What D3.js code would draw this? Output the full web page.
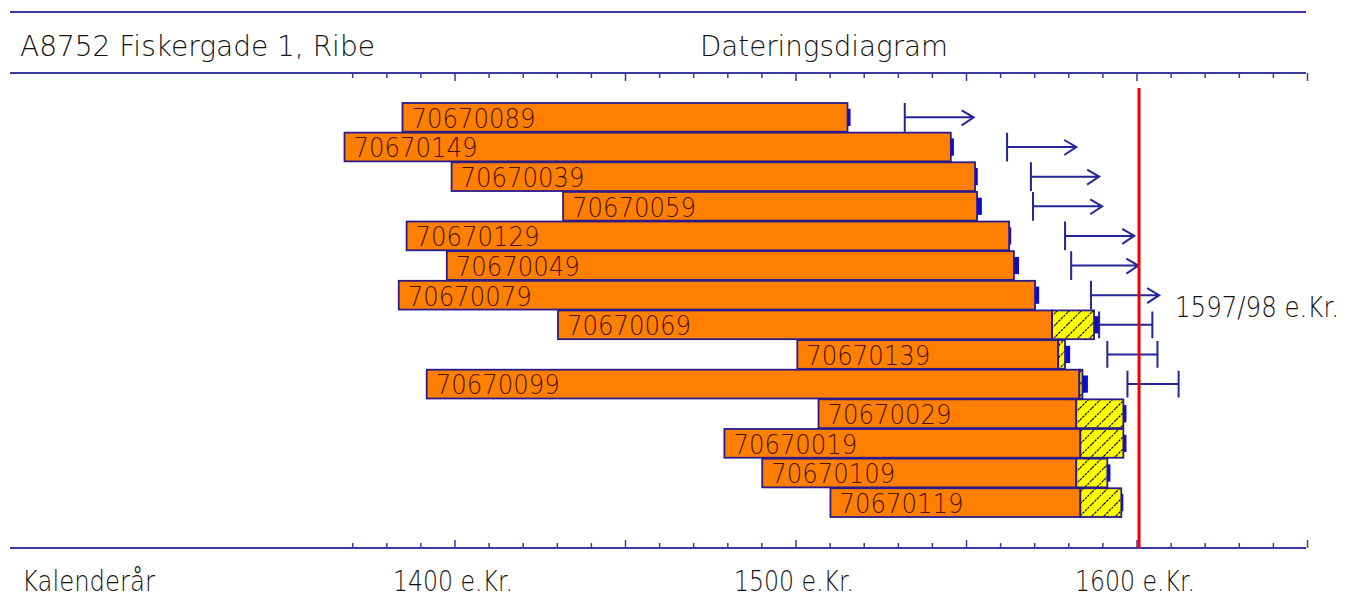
<!DOCTYPE html>
<html><head><meta charset="utf-8">
<script src="https://cdn.jsdelivr.net/npm/d3@7"></script>
<style>
html,body{margin:0;padding:0;background:#fff;}
svg text{font-family:"DejaVu Sans","Liberation Sans",sans-serif;font-weight:200;}
</style>
</head><body>
<svg id="chart" width="1356" height="603"></svg>
<script>
// ---- data ----
const sampleIds = ["70670089","70670149","70670039","70670059","70670129","70670049","70670079","70670069","70670139","70670099","70670029","70670019","70670109","70670119"];
const firstRing = [1384.6,1367.6,1399.0,1431.7,1385.8,1397.6,1383.5,1430.2,1500.4,1391.7,1506.6,1479.0,1490.1,1510.1];
const heartwoodEnd = [1515.1,1545.4,1552.5,1553.1,1562.5,1563.9,1570.1,1575.1,1576.9,1583.1,1582.2,1583.4,1582.2,1583.4];
const sapwoodEnd = [null,null,null,null,null,null,null,1587.4,1578.9,1584.0,1596.0,1596.0,1591.3,1595.4];
const lastRing = [1516.0,1546.3,1553.3,1554.5,1563.1,1565.4,1571.3,1588.9,1580.4,1585.6,1596.9,1596.9,1592.2,1595.9];
const fellAfterFrom = [1531.9,1561.9,1568.9,1569.5,1578.9,1580.7,1586.5,null,null,null,null,null,null,null];
const fellAfterTo   = [1552.1,1582.2,1588.9,1589.8,1599.2,1600.4,1606.5,null,null,null,null,null,null,null];
const fellRangeLo = [null,null,null,null,null,null,null,1588.9,1591.3,1597.2,null,null,null,null];
const fellRangeHi = [null,null,null,null,null,null,null,1604.5,1606.0,1612.2,null,null,null,null];
const datingYear = 1600.6;
const datingLabel = "1597/98 e.Kr.";
const tickYears = d3.range(1370, 1651, 10);
const labelYears = [1400, 1500, 1600];
const labelSuffix = " e.Kr.";
const siteTitle = "A8752 Fiskergade 1, Ribe";
const chartTitle = "Dateringsdiagram";
const axisTitle = "Kalenderår";

// ---- scales ----
const svg = d3.select("#chart");
const x = d3.scaleLinear().domain([1400, 1600]).range([455, 1137]);
const y = d3.scaleBand().domain(sampleIds).range([103, 517]).paddingInner(0.03).paddingOuter(0);
const navy = "#25259a";
const lineCol = "#3a3aa0";

// helper: text squeezed to a target width via transform
function fitText(sel, px, py, size, width, str){
  const t = sel.append("text").attr("font-size",size).attr("fill","#111").text(str);
  const w = t.node().getComputedTextLength();
  t.attr("transform",`translate(${px},${py}) scale(${width/w},1)`);
  return t;
}

// hatch pattern
const defs = svg.append("defs");
const pat = defs.append("pattern").attr("id","hatch").attr("patternUnits","userSpaceOnUse")
  .attr("width",12).attr("height",12);
pat.append("rect").attr("width",12).attr("height",12).attr("fill","#ffff00");
pat.append("path").attr("d","M0,12 L12,0 M-3,3 L3,-3 M9,15 L15,9")
  .attr("stroke","#111").attr("stroke-width",1.2).attr("stroke-dasharray","2.5,1");

// header
svg.append("line").attr("x1",10).attr("x2",1306).attr("y1",12).attr("y2",12).attr("stroke",lineCol).attr("stroke-width",2);
fitText(svg, 20, 56, 29, 355, siteTitle);
fitText(svg, 700, 56, 29, 248, chartTitle);

// axes
function drawAxis(yPos, dir){
  svg.append("line").attr("x1",10).attr("x2",1306).attr("y1",yPos).attr("y2",yPos).attr("stroke",lineCol).attr("stroke-width",2);
  svg.append("g").selectAll("line").data(tickYears).join("line")
    .attr("x1",d=>x(d)).attr("x2",d=>x(d)).attr("y1",yPos)
    .attr("y2",d=> yPos + dir*((d%50===0)?8:5))
    .attr("stroke",lineCol).attr("stroke-width",1.5);
}
drawAxis(73, 1);
drawAxis(548, -1);

fitText(svg, 22, 591, 28, 133, axisTitle);
labelYears.forEach(d=>fitText(svg, x(d)-62, 591, 28, 120, d+labelSuffix));

// bars
const rows = sampleIds.map((id,i)=>({id,i,start:firstRing[i],heart:heartwoodEnd[i],sap:sapwoodEnd[i],last:lastRing[i],
  aFrom:fellAfterFrom[i],aTo:fellAfterTo[i],rLo:fellRangeLo[i],rHi:fellRangeHi[i]}));
const bh = y.bandwidth();
const g = svg.append("g");
// caps (last ring marker)
g.selectAll("rect.cap").data(rows).join("rect").attr("class","cap")
  .attr("x",d=>x(d.sap||d.heart)-1).attr("width",d=>Math.max(3,x(d.last)-x(d.sap||d.heart)+1))
  .attr("y",d=>y(d.id)+bh*0.2).attr("height",bh*0.6).attr("fill","#0a0ad0");
// heartwood
g.selectAll("rect.heart").data(rows).join("rect").attr("class","heart")
  .attr("x",d=>x(d.start)).attr("width",d=>x(d.heart)-x(d.start))
  .attr("y",d=>y(d.id)).attr("height",bh)
  .attr("fill","#ff8000").attr("stroke","#2a1a8a").attr("stroke-width",1.8);
// sapwood
g.selectAll("rect.sap").data(rows.filter(d=>d.sap)).join("rect").attr("class","sap")
  .attr("x",d=>x(d.heart)).attr("width",d=>x(d.sap)-x(d.heart))
  .attr("y",d=>y(d.id)).attr("height",bh)
  .attr("fill","url(#hatch)").attr("stroke","#2a1a8a").attr("stroke-width",1.8);
// labels
rows.forEach(d=>{
  fitText(g, x(d.start)+9, y(d.id)+bh-4, 26, 124, d.id).attr("fill","#4a1200");
});

// felling "after" arrows
const arr = rows.filter(d=>d.aFrom!=null);
const ag = svg.append("g").attr("stroke",navy).attr("stroke-width",2).attr("fill","none");
ag.selectAll("path.a").data(arr).join("path")
  .attr("d",d=>{const cy=y(d.id)+bh/2, x0=x(d.aFrom), x1=x(d.aTo);
    return `M${x0},${y(d.id)} V${y(d.id)+bh} M${x0},${cy} H${x1} M${x1-12},${cy-7} L${x1},${cy} L${x1-12},${cy+8}`;});
// felling ranges
const rng = rows.filter(d=>d.rLo!=null);
ag.selectAll("path.r").data(rng).join("path")
  .attr("d",d=>{const cy=y(d.id)+bh/2, x0=x(d.rLo), x1=x(d.rHi), t=y(d.id)+1, b=y(d.id)+bh-1;
    return `M${x0},${t} V${b} M${x1},${t} V${b} M${x0},${cy} H${x1}`;});

// dating line
svg.append("line").attr("x1",x(datingYear)).attr("x2",x(datingYear)).attr("y1",88).attr("y2",548)
  .attr("stroke","#ee0000").attr("stroke-width",3);
fitText(svg, x(datingYear)+36, y(sampleIds[6])+bh/2+22, 28, 164, datingLabel);
</script>
</body></html>
